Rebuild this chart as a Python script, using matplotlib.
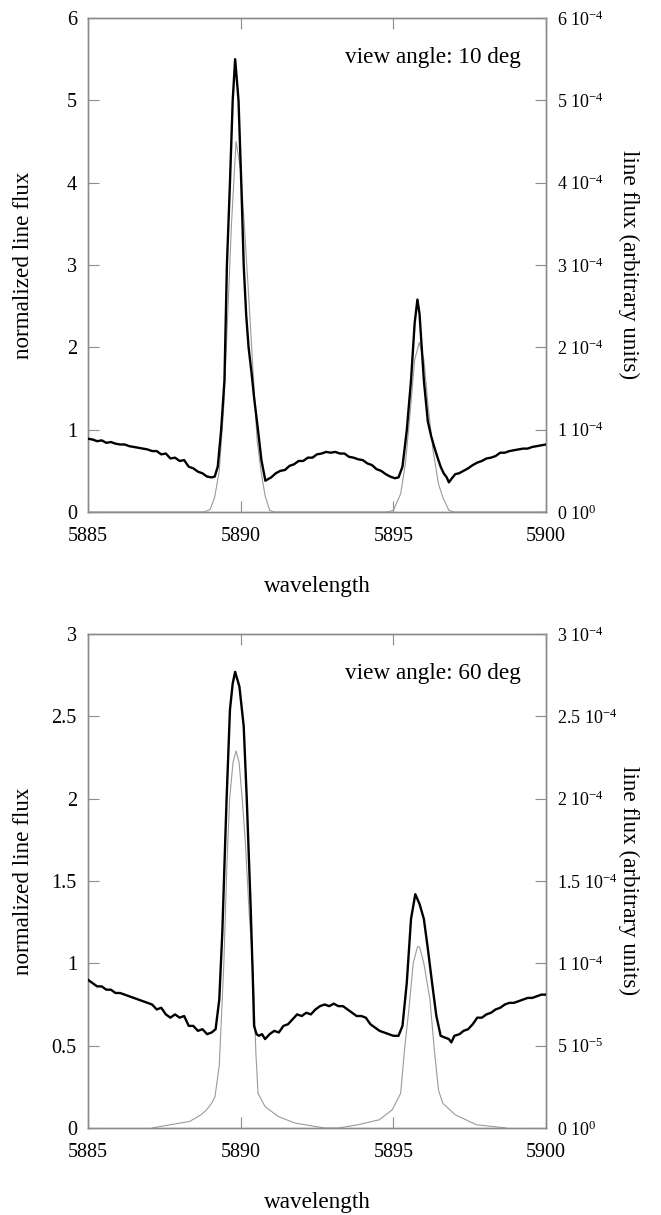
import numpy as np
import matplotlib
matplotlib.use("Agg")
import matplotlib.pyplot as plt
from matplotlib.ticker import FuncFormatter

plt.rcParams['font.family'] = ['Liberation Serif', 'DejaVu Serif']
plt.rcParams['mathtext.fontset'] = 'custom'
plt.rcParams['mathtext.rm'] = 'Liberation Serif'
plt.rcParams['mathtext.it'] = 'Liberation Serif:italic'

# ---- view angle 10 deg ----
wl_norm_10 = [5885.00, 5885.15, 5885.30, 5885.45, 5885.60, 5885.75, 5885.90, 5886.05, 5886.20, 5886.35,
              5886.50, 5886.65, 5886.80, 5886.95, 5887.10, 5887.25, 5887.40, 5887.55, 5887.70, 5887.85,
              5888.00, 5888.15, 5888.30, 5888.45, 5888.60, 5888.75, 5888.90, 5889.05, 5889.15, 5889.25,
              5889.36, 5889.47, 5889.55, 5889.65, 5889.74, 5889.82, 5889.93, 5890.02, 5890.10, 5890.18,
              5890.26, 5890.36, 5890.44, 5890.57, 5890.68, 5890.81, 5890.90, 5891.00, 5891.15, 5891.30,
              5891.45, 5891.60, 5891.75, 5891.90, 5892.05, 5892.20, 5892.35, 5892.50, 5892.65, 5892.80,
              5892.95, 5893.10, 5893.25, 5893.40, 5893.55, 5893.70, 5893.85, 5894.00, 5894.15, 5894.30,
              5894.45, 5894.60, 5894.75, 5894.90, 5895.05, 5895.17, 5895.30, 5895.44, 5895.58, 5895.70,
              5895.79, 5895.86, 5895.93, 5896.00, 5896.13, 5896.24, 5896.34, 5896.45, 5896.55, 5896.65,
              5896.75, 5896.82, 5896.92, 5897.03, 5897.15, 5897.30, 5897.45, 5897.60, 5897.75, 5897.90,
              5898.05, 5898.20, 5898.35, 5898.50, 5898.65, 5898.80, 5898.95, 5899.10, 5899.25, 5899.40,
              5899.55, 5899.70, 5899.85, 5900.00]
norm_10 = [0.89, 0.88, 0.86, 0.87, 0.84, 0.85, 0.83, 0.82, 0.82, 0.80,
           0.79, 0.78, 0.77, 0.76, 0.74, 0.74, 0.70, 0.71, 0.65, 0.66,
           0.62, 0.63, 0.55, 0.53, 0.49, 0.47, 0.43, 0.42, 0.43, 0.55,
           0.99, 1.60, 3.00, 4.00, 5.00, 5.50, 5.00, 4.00, 3.00, 2.40,
           2.00, 1.68, 1.39, 0.99, 0.63, 0.38, 0.40, 0.42, 0.47, 0.50,
           0.51, 0.56, 0.58, 0.62, 0.62, 0.66, 0.66, 0.70, 0.71, 0.73,
           0.72, 0.73, 0.71, 0.71, 0.67, 0.66, 0.64, 0.63, 0.59, 0.57,
           0.52, 0.50, 0.46, 0.43, 0.41, 0.42, 0.55, 0.99, 1.60, 2.30,
           2.58, 2.40, 2.00, 1.60, 1.10, 0.92, 0.79, 0.66, 0.55, 0.47,
           0.42, 0.36, 0.41, 0.46, 0.47, 0.50, 0.53, 0.57, 0.60, 0.62,
           0.65, 0.66, 0.68, 0.72, 0.72, 0.74, 0.75, 0.76, 0.77, 0.77,
           0.79, 0.80, 0.81, 0.82]

wl_flux_10 = [5885.0, 5888.8, 5889.0, 5889.15, 5889.3, 5889.45, 5889.6, 5889.7, 5889.85, 5890.0,
              5890.1, 5890.25, 5890.4, 5890.54, 5890.68, 5890.8, 5890.95, 5891.1, 5894.8, 5895.0,
              5895.24, 5895.4, 5895.55, 5895.7, 5895.85, 5896.0, 5896.15, 5896.3, 5896.48, 5896.62,
              5896.82, 5897.0, 5900.0]
flux_10 = [0, 0, 0.03, 0.18, 0.5, 1.3, 2.6, 3.5, 4.5, 4.15,
           3.6, 2.7, 1.75, 0.87, 0.46, 0.2, 0.02, 0, 0, 0.02,
           0.22, 0.6, 1.2, 1.85, 2.06, 1.85, 1.25, 0.75, 0.34, 0.18,
           0.02, 0, 0]  # units of 1e-4

# ---- view angle 60 deg ----
wl_norm_60 = [5885.00, 5885.15, 5885.30, 5885.45, 5885.60, 5885.75, 5885.90, 5886.05, 5886.20, 5886.35,
              5886.50, 5886.65, 5886.80, 5886.95, 5887.10, 5887.25, 5887.40, 5887.55, 5887.70, 5887.85,
              5888.00, 5888.15, 5888.30, 5888.45, 5888.60, 5888.75, 5888.90, 5889.05, 5889.18, 5889.30,
              5889.40, 5889.47, 5889.54, 5889.65, 5889.74, 5889.82, 5889.96, 5890.10, 5890.20, 5890.33,
              5890.40, 5890.44, 5890.52, 5890.60, 5890.70, 5890.80, 5890.95, 5891.10, 5891.25, 5891.40,
              5891.55, 5891.70, 5891.85, 5892.00, 5892.15, 5892.30, 5892.45, 5892.60, 5892.75, 5892.90,
              5893.05, 5893.20, 5893.35, 5893.50, 5893.65, 5893.80, 5893.95, 5894.10, 5894.25, 5894.40,
              5894.55, 5894.70, 5894.85, 5895.00, 5895.17, 5895.30, 5895.44, 5895.58, 5895.72, 5895.86,
              5896.00, 5896.13, 5896.27, 5896.41, 5896.55, 5896.68, 5896.82, 5896.90, 5897.00, 5897.17,
              5897.30, 5897.45, 5897.60, 5897.75, 5897.90, 5898.05, 5898.20, 5898.35, 5898.50, 5898.65,
              5898.80, 5898.95, 5899.10, 5899.25, 5899.40, 5899.55, 5899.70, 5899.85, 5900.00]
norm_60 = [0.90, 0.88, 0.86, 0.86, 0.84, 0.84, 0.82, 0.82, 0.81, 0.80,
           0.79, 0.78, 0.77, 0.76, 0.75, 0.72, 0.73, 0.69, 0.67, 0.69,
           0.67, 0.68, 0.62, 0.62, 0.59, 0.60, 0.57, 0.58, 0.60, 0.78,
           1.19, 1.60, 2.00, 2.54, 2.70, 2.77, 2.68, 2.44, 2.00, 1.33,
           0.90, 0.62, 0.57, 0.56, 0.57, 0.54, 0.57, 0.59, 0.58, 0.62,
           0.63, 0.66, 0.69, 0.68, 0.70, 0.69, 0.72, 0.74, 0.75, 0.74,
           0.755, 0.74, 0.74, 0.72, 0.70, 0.68, 0.68, 0.67, 0.63, 0.61,
           0.59, 0.58, 0.57, 0.56, 0.56, 0.62, 0.88, 1.27, 1.42, 1.36,
           1.27, 1.09, 0.88, 0.68, 0.56, 0.55, 0.54, 0.52, 0.56, 0.57,
           0.59, 0.60, 0.63, 0.67, 0.67, 0.69, 0.70, 0.72, 0.73, 0.75,
           0.76, 0.76, 0.77, 0.78, 0.79, 0.79, 0.80, 0.81, 0.81]

wl_flux_60 = [5887.1, 5887.7, 5888.33, 5888.7, 5888.88, 5889.05, 5889.16, 5889.3, 5889.45, 5889.55,
              5889.64, 5889.75, 5889.85, 5889.95, 5890.05, 5890.15, 5890.28, 5890.4, 5890.5, 5890.57,
              5890.8, 5891.23, 5891.78, 5892.75, 5893.2, 5893.85, 5894.54, 5894.96, 5895.24, 5895.37,
              5895.52, 5895.65, 5895.79, 5895.86, 5896.0, 5896.2, 5896.34, 5896.48, 5896.62, 5897.03,
              5897.72, 5898.7]
flux_60 = [0, 0.02, 0.04, 0.08, 0.11, 0.15, 0.19, 0.38, 1.0, 1.6,
           2.0, 2.22, 2.29, 2.22, 2.0, 1.75, 1.3, 0.98, 0.45, 0.21,
           0.13, 0.07, 0.03, 0, 0, 0.02, 0.05, 0.11, 0.21, 0.48,
           0.74, 1.0, 1.1, 1.1, 1.0, 0.78, 0.48, 0.23, 0.15, 0.08,
           0.02, 0]  # units of 1e-4

xticks = [5885, 5890, 5895, 5900]
panels = [
    (wl_norm_10, norm_10, wl_flux_10, flux_10, [0, 1, 2, 3, 4, 5, 6], "view angle: 10 deg", 0.5786),
    (wl_norm_60, norm_60, wl_flux_60, flux_60, [0, 0.5, 1, 1.5, 2, 2.5, 3], "view angle: 60 deg", 0.0716),
]

grey = '#8c8c8c'
fs = 14.5      # tick labels
fs_lab = 16.7  # axis labels and panel text
fs_r = 13      # right-hand tick labels


def sci_label(v, pos):
    if v == 0:
        return r"0 10$^{0}$"
    e = int(np.floor(np.log10(v) + 1e-9))
    m = v / 10.0 ** e
    return "%g 10$^{%d}$" % (round(m, 3), e)


fig = plt.figure(figsize=(6.61, 12.15), dpi=100)

for wl_n, yn, wl_f, yf, yticks, title, bottom in panels:
    ax = fig.add_axes([0.1331, bottom, 0.6929, 0.4066])
    ax2 = ax.twinx()

    ax.plot(wl_n, yn, color='black', lw=1.7, zorder=3)
    ax2.plot(wl_f, np.array(yf) * 1e-4, color='#9a9a9a', lw=0.8)
    ax.set_zorder(ax2.get_zorder() + 1)
    ax.patch.set_visible(False)

    ax.set_xlim(5885, 5900)
    ax.set_ylim(yticks[0], yticks[-1])
    ax2.set_ylim(yticks[0] * 1e-4, yticks[-1] * 1e-4)
    ax.set_xticks(xticks)
    ax.set_yticks(yticks)
    ax.set_yticklabels(["%g" % t for t in yticks])
    ax2.set_yticks([t * 1e-4 for t in yticks])
    ax2.yaxis.set_major_formatter(FuncFormatter(sci_label))

    ax.tick_params(axis='x', direction='in', top=True, length=8, color=grey, labelsize=fs, pad=11)
    ax.tick_params(axis='y', direction='in', length=8, color=grey, labelsize=fs, pad=8)
    ax2.tick_params(axis='y', direction='in', length=8, color=grey, labelsize=fs_r, pad=8)
    for a in (ax, ax2):
        for s in a.spines.values():
            s.set_color(grey)
            s.set_linewidth(1.0)

    ax.set_xlabel("wavelength", fontsize=fs_lab)
    ax.xaxis.set_label_coords(0.5, -0.13)
    ax.set_ylabel("normalized line flux", fontsize=fs_lab)
    ax.yaxis.set_label_coords(-0.117, 0.5)
    ax2.set_ylabel("line flux (arbitrary units)", fontsize=fs_lab, rotation=270, va='center')
    ax2.yaxis.set_label_coords(1.18, 0.5)

    ax.text(0.945, 0.92, title, transform=ax.transAxes, ha='right', va='center', fontsize=fs_lab)

fig.savefig("out.png", dpi=100)
